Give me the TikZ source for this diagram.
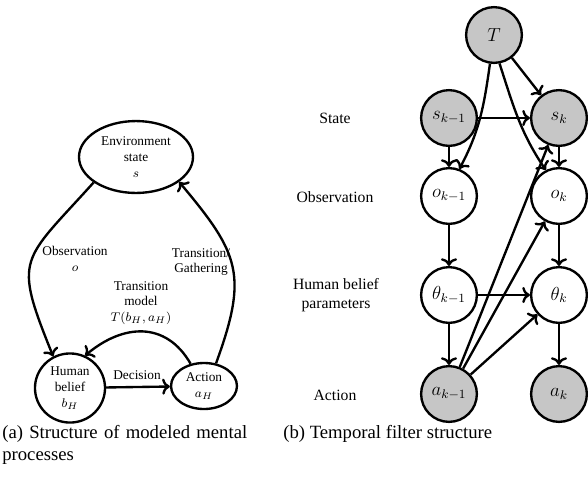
\documentclass[tikz,border=0pt]{standalone}
\usepackage{amsmath,amssymb}
\usepackage{fontspec}
\setmainfont{Liberation Serif}
\usepackage{tikz}
\usetikzlibrary{arrows.meta,positioning,shapes.geometric}

\tikzset{
  flow/.style={->, line width=1.5pt},
  mentalnode/.style={ellipse, draw, line width=1.5pt, inner sep=0pt, align=center, font=\fontsize{8.5}{10}\selectfont},
  lbl/.style={inner sep=0pt, align=center, font=\fontsize{8.5}{10}\selectfont},
  latvar/.style={circle, draw, line width=1.5pt, minimum size=35.5pt, inner sep=0pt, fill=white, font=\fontsize{12}{14}\selectfont},
  obsvar/.style={latvar, fill=gray!45},
  rowlabel/.style={inner sep=0pt, align=center, font=\fontsize{10}{12}\selectfont},
  captxt/.style={inner sep=0pt, font=\fontsize{11.9}{14}\selectfont}
}

\begin{document}
\begin{tikzpicture}[x=0.6368pt, y=0.6368pt]
  \useasboundingbox (0,0) rectangle (588,-479);

  % Mental processes
  \begin{scope}
    \node[mentalnode, minimum width=72.6pt, minimum height=45.8pt] (env) at (136,-157) {Environment\\state\\$s$};
    \node[mentalnode, minimum width=44.6pt, minimum height=44pt] (belief) at (70,-388) {Human\\belief\\$b_H$};
    \node[mentalnode, minimum width=42pt, minimum height=29.3pt] (act) at (204,-386) {Action\\$a_H$};

    \draw[flow] (env.211) to[out=228, in=112, looseness=1.55] (belief.118);
    \draw[flow] (act.62) to[out=70, in=-50, looseness=1.3] (env.330);
    \draw[flow] (act.121) to[out=120, in=40, looseness=1.2] (belief.65);
    \draw[flow] (belief) -- (act);

    \node[lbl] (obslbl) at (75,-259) {Observation\\$o$};
    \node[lbl] (gathlbl) at (201,-262) {Transition/\\Gathering};
    \node[lbl] (modlbl) at (141,-303) {Transition\\model\\$T(b_H,a_H)$};
    \node[lbl] (declbl) at (137,-375) {Decision};
  \end{scope}

  % Temporal filter
  \begin{scope}
    \node[obsvar] (T) at (494,-35) {$T$};
    \node[obsvar] (s1) at (449,-118) {$s_{k-1}$};
    \node[obsvar] (s2) at (559,-118) {$s_k$};
    \node[latvar] (o1) at (449,-196) {$o_{k-1}$};
    \node[latvar] (o2) at (559,-196) {$o_k$};
    \node[latvar] (th1) at (449,-295) {$\theta_{k-1}$};
    \node[latvar] (th2) at (559,-295) {$\theta_k$};
    \node[obsvar] (a1) at (449,-394) {$a_{k-1}$};
    \node[obsvar] (a2) at (559,-394) {$a_k$};

    \node[rowlabel] (lstate) at (335,-118) {State};
    \node[rowlabel] (lobs) at (335,-197) {Observation};
    \node[rowlabel] (lbel) at (336,-295) {Human belief\\parameters};
    \node[rowlabel] (lact) at (335,-395) {Action};

    \draw[flow] (T) -- (s2);
    \draw[flow] (T.262) to[out=262, in=62] (o1.69);
    \draw[flow] (T.281) to[out=288, in=124] (o2.117);
    \draw[flow] (s1) -- (s2);
    \draw[flow] (s1) -- (o1);
    \draw[flow] (s2) -- (o2);
    \draw[flow] (o1) -- (th1);
    \draw[flow] (o2) -- (th2);
    \draw[flow] (th1) -- (th2);
    \draw[flow] (th1) -- (a1);
    \draw[flow] (th2) -- (a2);
    \draw[flow] (a1) -- (s2);
    \draw[flow] (a1) -- (o2);
    \draw[flow] (a1) -- (th2);
  \end{scope}

  % Captions
  \node[captxt, anchor=north west, text width=160pt, align=left] (capa) at (2,-425) {(a) Structure of modeled mental processes};
  \node[captxt, anchor=north west] (capb) at (283,-425) {(b) Temporal filter structure};
\end{tikzpicture}
\end{document}
